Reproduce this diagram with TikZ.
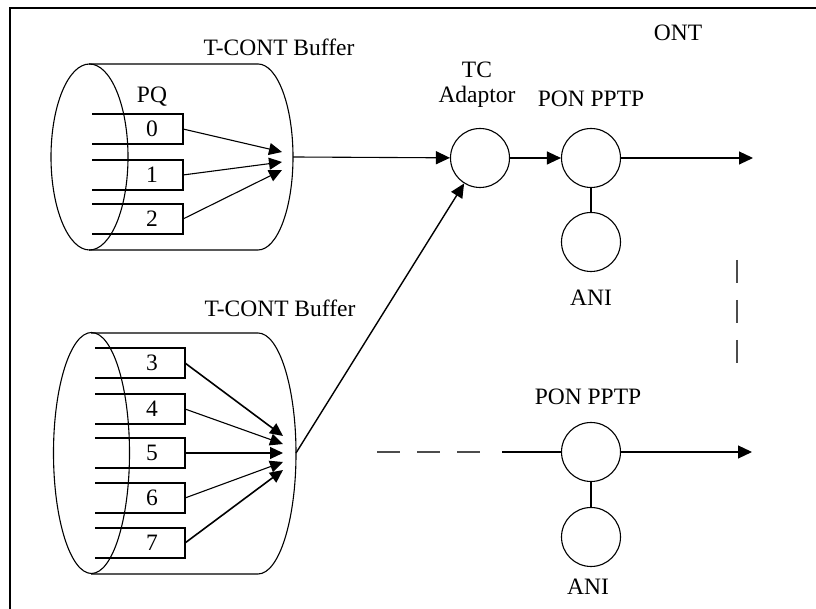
\documentclass[tikz,border=0pt]{standalone}
\usepackage{fontspec}
\setmainfont{Liberation Serif}
\usetikzlibrary{arrows.meta}
\begin{document}
\begin{tikzpicture}[x=1pt,y=1pt,line width=1.1pt,
  lbl/.style={font=\fontsize{23.5}{27}\selectfont, inner sep=0pt},
  circ/.style={circle, draw, minimum size=59pt, inner sep=0pt},
  arr/.style={-{Triangle[length=14pt,width=13pt]}},
  sarr/.style={-{Triangle[length=13pt,width=12pt]}},
  dsh/.style={dash pattern=on 23pt off 17pt, draw=black!70}]
\useasboundingbox (0,0) rectangle (816,609);
% frame
\draw[line width=1.6pt] (10,0) -- (10,601) -- (816,601);
% labels
\node[lbl] (tcb1) at (279,562) {T-CONT Buffer};
\node[lbl] (tcb2) at (280,301) {T-CONT Buffer};
\node[lbl] (pq) at (152,512) {PQ};
\node[lbl] (ont) at (678,576) {ONT};
\node[lbl] (tcl1) at (477,539) {TC};
\node[lbl] (tcl2) at (477,512) {Adaptor};
\node[lbl] (ponl1) at (591,510) {PON PPTP};
\node[lbl] (anil1) at (591,311) {ANI};
\node[lbl] (ponl2) at (588,212) {PON PPTP};
\node[lbl] (anil2) at (588,22) {ANI};
% cylinder 1
\draw (89,545) -- (258,545) arc[start angle=90,end angle=-90,x radius=35,y radius=93] -- (89,359);
\draw (89.5,452) ellipse[x radius=38.5,y radius=93];
\coordinate (c1out) at (293,452);
\foreach \i/\yc/\ty in {0/480/457, 1/434/447, 2/390/439}{
  \draw (92,\yc+15) -| (183,\yc-15) -- (92,\yc-15);
  \node[lbl] (q\i) at (152,\yc) {\i};
  \coordinate (q\i e) at (183,\yc);
  \coordinate (t\i) at (282,\ty);
  \draw[sarr] (q\i e) -- (t\i);
}
% cylinder 2
\draw (91,276) -- (258,276) arc[start angle=90,end angle=-90,x radius=38,y radius=120.5] -- (91,35);
\draw (91.5,156) ellipse[x radius=38,y radius=120.5];
\coordinate (c2out) at (296,156);
\foreach \i/\yc/\ty/\lw in {3/246/173/1.6pt, 4/200/165/1.1pt, 5/156/156/1.1pt, 6/111/147/1.1pt, 7/66/139/1.6pt}{
  \draw (95,\yc+15) -| (185,\yc-15) -- (95,\yc-15);
  \node[lbl] (q\i) at (152,\yc) {\i};
  \coordinate (q\i e) at (185,\yc);
  \coordinate (t\i) at (283,\ty);
  \draw[sarr, line width=\lw] (q\i e) -- (t\i);
}
% circles
\node[circ] (tc) at (480,451) {};
\node[circ] (pon1) at (591,451) {};
\node[circ] (ani1) at (591,367) {};
\node[circ] (pon2) at (591,157) {};
\node[circ] (ani2) at (591,72) {};
\coordinate (out1) at (753,451);
\coordinate (out2) at (752,157);
\coordinate (d1) at (377,157);
\coordinate (d2) at (482,157);
\coordinate (s2) at (502,157);
\coordinate (v1) at (737,349);
\coordinate (v2) at (737,246);
% connectors
\draw[arr] (c1out) -- (tc);
\draw[arr, line width=1.4pt] (c2out) -- (tc);
\draw[arr] (tc) -- (pon1);
\draw[arr] (pon1) -- (out1);
\draw (pon1) -- (ani1);
\draw (pon2) -- (ani2);
\draw[arr] (pon2) -- (out2);
\draw (s2) -- (pon2);
\draw[dsh] (d1) -- (d2);
\draw[dsh] (v1) -- (v2);
\end{tikzpicture}
\end{document}
